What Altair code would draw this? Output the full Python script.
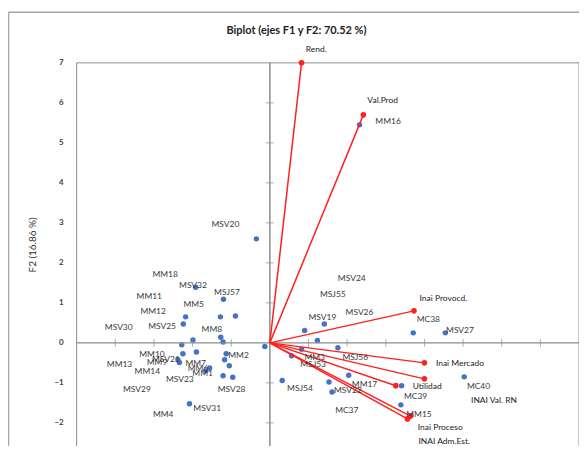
import altair as alt
import pandas as pd

# ---- observations (F1, F2) ----
obs_names = ["MSV32", "MSJ57", "MM11", "MM5", "MM18", "MM12", "MM8", "MM6",
             "MSV25", "MSV30", "MM7", "MM10", "MSV21", "MM2", "MM1", "MM13",
             "MM9", "MM4", "MM14", "MSV23", "MSV28", "MSV31", "MSV20", "MSV29",
             "MSV19", "MSV26", "MSJ55", "MSJ56", "MM3", "MSJ53", "MSJ54", "MM17",
             "MSV22", "MC37", "MC38", "MSV27", "MSV24", "MC39", "MC40", "MM16", "MM15"]
obs_f1 = [-1.92, -1.20, -2.18, -1.28, -0.89, -2.24, -1.27, -1.21,
          -1.99, -2.28, -0.13, -2.25, -1.90, -1.13, -1.17, -2.38,
          -2.34, -1.05, -1.56, -1.21, -0.96, -2.08, -0.35, -1.66,
          0.90, 1.41, 1.23, 1.76, 0.82, 0.56, 0.32, 2.04,
          1.53, 1.61, 3.71, 4.54, 3.41, 3.39, 5.03, 2.32, 3.64]
obs_f2 = [1.39, 1.09, 0.65, 0.65, 0.67, 0.47, 0.14, 0.02,
          0.07, -0.05, -0.09, -0.27, -0.23, -0.27, -0.42, -0.42,
          -0.49, -0.57, -0.63, -0.82, -0.86, -1.52, 2.60, -0.70,
          0.31, 0.47, 0.06, -0.12, -0.16, -0.32, -0.94, -0.81,
          -0.98, -1.23, 0.25, 0.25, -1.07, -1.55, -0.85, 5.45, -1.82]
# label anchor positions (F1, F2 units)
obs_lab_f1 = [-1.99, -1.11, -3.12, -1.97, -2.71, -3.02, -1.50, -1.86,
              -2.79, -3.91, -1.92, -3.05, -2.69, -0.81, -1.74, -3.89,
              -2.92, -2.76, -3.17, -2.33, -0.99, -1.62, -1.15, -3.44,
              1.36, 2.32, 1.63, 2.21, 1.16, 1.12, 0.78, 2.45,
              2.02, 1.99, 4.10, 4.92, 2.12, 3.77, 5.40, 3.06, 3.86]
obs_lab_f2 = [1.44, 1.27, 1.16, 0.97, 1.72, 0.80, 0.35, -0.62,
              0.42, 0.39, -0.50, -0.27, -0.41, -0.30, -0.75, -0.52,
              -0.49, -1.77, -0.71, -0.90, -1.15, -1.64, 2.98, -1.15,
              0.65, 0.76, 1.21, -0.36, -0.36, -0.52, -1.13, -1.02,
              -1.17, -1.67, 0.60, 0.32, 1.61, -1.34, -1.09, 5.55, -1.77]

# ---- variables (loadings) ----
var_names = ["Rend.", "Val.Prod", "Inai Provocd.", "Inai Mercado", "INAI Val. RN",
             "Utilidad", "Inai Proceso", "INAI Adm.Est."]
var_f1 = [0.82, 2.42, 3.73, 4.00, 4.00, 3.26, 3.56, 3.64]
var_f2 = [7.00, 5.70, 0.80, -0.50, -0.90, -1.07, -1.90, -1.83]
var_lab_f1 = [1.20, 2.92, 4.49, 4.92, 5.80, 4.07, 4.41, 4.51]
var_lab_f2 = [7.34, 6.07, 1.12, -0.50, -1.44, -1.07, -2.11, -2.45]

x_ticks = [-4, -3, -2, -1, 1, 2, 3, 4, 5, 6, 7]
y_ticks = [-2, -1, 1, 2, 3, 4, 5, 6]
y_labels = [-2, -1, 0, 1, 2, 3, 4, 5, 6, 7]

TITLE = "Biplot (ejes F1 y F2: 70.52 %)"
Y_TITLE = "F2 (16.86 %)"

W, H = 505, 380
FONT = "Lato"

obs = pd.DataFrame({"name": obs_names, "F1": obs_f1, "F2": obs_f2,
                    "lx": obs_lab_f1, "ly": obs_lab_f2})
var = pd.DataFrame({"name": var_names, "F1": var_f1, "F2": var_f2,
                    "lx": var_lab_f1, "ly": var_lab_f2})
var["o1"] = 0.0
var["o2"] = 0.0
xt = pd.DataFrame({"v": x_ticks, "z": 0.0})
yt = pd.DataFrame({"v": y_ticks, "z": 0.0})
yl = pd.DataFrame({"v": y_labels})
zero = pd.DataFrame({"z": [0.0]})

xs = alt.Scale(domain=[-5, 8], nice=False, zero=False)
ys = alt.Scale(domain=[-2.45, 7], nice=False, zero=False)
GRAY = "#8c8c8c"
FRAME = "#a6a6a6"


def X(f):
    return alt.X(f, scale=xs, axis=None)


def Y(f):
    return alt.Y(f, scale=ys, axis=None)


def vline(x, y, y2, color, w):
    return alt.Chart(zero).mark_rule(color=color, strokeWidth=w).encode(
        x=alt.value(x), y=alt.value(y), y2=alt.value(y2))


def hline(x, x2, y, color, w):
    return alt.Chart(zero).mark_rule(color=color, strokeWidth=w).encode(
        x=alt.value(x), x2=alt.value(x2), y=alt.value(y))


points = alt.Chart(obs).mark_circle(color="#4472c4", size=30, opacity=1).encode(
    x=X("F1:Q"), y=Y("F2:Q"))

frames = [
    hline(-68.5, 700, -51, FRAME, 1.5), vline(-68.5, -51, 700, FRAME, 1.5),
    hline(0, W, 0, GRAY, 1), vline(0, 0, 700, GRAY, 1), vline(W, 0, 700, GRAY, 1),
]

vaxis = alt.Chart(zero).mark_rule(color=GRAY, strokeWidth=1.5).encode(
    x=X("z:Q"), y=alt.value(0), y2=alt.value(700))
haxis = alt.Chart(zero).mark_rule(color=GRAY, strokeWidth=1.5).encode(
    y=Y("z:Q"), x=alt.value(0), x2=alt.value(W))
xtick = alt.Chart(xt).mark_tick(orient="vertical", size=8, thickness=1, color=GRAY).encode(
    x=X("v:Q"), y=Y("z:Q"))
ytick = alt.Chart(yt).mark_tick(orient="horizontal", size=8, thickness=1, color=GRAY).encode(
    y=Y("v:Q"), x=X("z:Q"))

ylab = alt.Chart(yl).mark_text(font=FONT, fontSize=8, fontWeight="bold", color="#404040",
                               align="right", baseline="middle").encode(
    x=alt.value(-13), y=Y("v:Q"), text="v:Q")
ytitle = alt.Chart(zero).mark_text(font=FONT, fontSize=10, color="#333333", angle=270,
                                   align="center", baseline="middle",
                                   text=Y_TITLE).encode(
    x=alt.value(-44), y=alt.value(183))
title = alt.Chart(zero).mark_text(font=FONT, fontSize=11, fontWeight="bold",
                                  color="#222222", align="center", baseline="middle",
                                  text=TITLE).encode(
    x=alt.value(221), y=alt.value(-32))

vectors = alt.Chart(var).mark_rule(color="#ff2020", strokeWidth=1.5).encode(
    x=X("o1:Q"), y=Y("o2:Q"), x2="F1:Q", y2="F2:Q")
vend = alt.Chart(var).mark_circle(color="#ff2020", size=32, opacity=1).encode(
    x=X("F1:Q"), y=Y("F2:Q"))

obs_text = alt.Chart(obs).mark_text(font=FONT, fontSize=8.5, color="#3a3a3a",
                                    align="center", baseline="middle").encode(
    x=X("lx:Q"), y=Y("ly:Q"), text="name:N")
var_text = alt.Chart(var).mark_text(font=FONT, fontSize=8.5, color="#222222",
                                    align="center", baseline="middle").encode(
    x=X("lx:Q"), y=Y("ly:Q"), text="name:N")

chart = alt.layer(points, *frames, vaxis, haxis, xtick, ytick, ylab, ytitle, title,
                  vectors, vend, obs_text, var_text).properties(
    width=W, height=H,
    padding={"left": 69, "top": 54, "right": 0, "bottom": 4},
    autosize=alt.AutoSizeParams(type="none"),
    background="white",
).configure_view(stroke=None)

chart.save("out.html", embed_options={"renderer": "svg", "actions": False})
